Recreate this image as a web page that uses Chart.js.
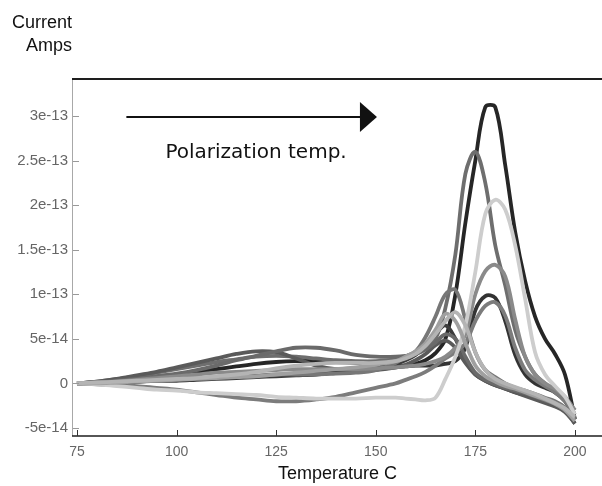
<!DOCTYPE html>
<html>
<head>
<meta charset="utf-8">
<script src="https://cdn.jsdelivr.net/npm/chart.js@4/dist/chart.umd.min.js"></script>
<style>
  body { margin: 0; background: #fff; }
  #wrap { width: 602px; height: 486px; }
</style>
</head>
<body>
<div id="wrap"><canvas id="tsc" width="602" height="486"></canvas></div>
<script>
// Temperature grid (C) shared by all runs
const temps = [75, 80, 85, 90, 95, 100, 105, 110, 115, 120, 125, 130, 135, 140, 145, 150,
    155, 157.5, 160, 162.5, 165, 167.5, 170, 172.5, 175, 177.5, 180, 182.5, 185, 187.5,
    190, 192.5, 195, 197.5, 200];

// Current in units of 1e-14 A
const runA = [0, 0.1, 0.3, 0.5, 0.8, 1.0, 1.3, 1.6, 1.9, 2.2, 2.4, 2.5, 2.5, 2.4, 2.3, 2.2,
    2.0, 2.0, 2.2, 2.6, 3.4, 5.0, 10.0, 18.0, 25.0, 31.0, 31.0, 24.5, 17.0, 11.5, 7.5, 5.0, 3.3, 1.0, -4.0];
const runB = [0, 0.2, 0.5, 0.8, 1.2, 1.6, 2.0, 2.4, 2.7, 3.0, 3.1, 3.0, 2.8, 2.6, 2.5, 2.5,
    2.7, 3.0, 3.5, 4.2, 5.0, 8.5, 14.5, 23.5, 26.0, 22.5, 15.5, 11.0, 6.0, 3.0, 1.0, 0, -1.0, -1.8, -3.0];
const runC = [0, -0.1, -0.3, -0.5, -0.7, -0.8, -1.0, -1.1, -1.2, -1.3, -1.5, -1.6, -1.7, -1.7, -1.7, -1.6,
    -1.6, -1.7, -1.8, -1.9, -1.6, 0.5, 3.0, 6.5, 12.5, 19.0, 20.6, 19.5, 15.5, 9.5, 3.5, 1.0, -0.3, -1.5, -3.5];
const runD = [0, 0.1, 0.2, 0.4, 0.6, 0.8, 1.0, 1.2, 1.3, 1.4, 1.5, 1.6, 1.6, 1.6, 1.6, 1.7,
    1.8, 1.9, 2.0, 2.2, 2.5, 3.0, 4.0, 5.5, 10.0, 12.6, 13.3, 12.0, 7.2, 3.0, 1.0, 0, -0.6, -1.5, -3.0];
const runE = [0, 0, 0.1, 0.2, 0.3, 0.4, 0.5, 0.6, 0.7, 0.8, 0.9, 1.0, 1.1, 1.2, 1.4, 1.6,
    1.8, 1.9, 2.0, 2.0, 2.0, 2.2, 2.5, 4.0, 8.2, 9.8, 9.6, 7.0, 3.2, 1.0, 0, -0.5, -1.0, -2.0, -4.0];
const runF = [0, -0.1, -0.2, -0.3, -0.5, -0.7, -1.0, -1.3, -1.6, -1.8, -2.0, -2.0, -1.8, -1.5, -1.0, -0.5,
    0, 0.4, 0.8, 1.3, 2.0, 2.8, 3.5, 4.5, 7.0, 8.7, 9.1, 7.6, 4.0, 1.5, 0.4, -0.3, -1.0, -2.0, -3.5];
const runG = [0, 0.1, 0.2, 0.3, 0.4, 0.5, 0.6, 0.7, 0.8, 0.9, 1.0, 1.0, 1.0, 1.1, 1.2, 1.5,
    2.3, 3.0, 3.6, 5.2, 7.5, 10.0, 10.5, 7.2, 3.5, 1.5, 0.7, 0, -0.5, -0.8, -1.2, -1.6, -2.0, -2.7, -4.0];
const runH = [0, 0, 0.1, 0.2, 0.3, 0.4, 0.5, 0.6, 0.7, 0.8, 1.0, 1.2, 1.4, 1.6, 1.8, 2.1,
    2.5, 3.0, 3.6, 4.5, 6.0, 7.8, 7.0, 4.5, 2.0, 0.8, 0.2, -0.3, -0.6, -1.0, -1.4, -1.8, -2.3, -3.0, -4.2];
const runI = [0, 0, 0.1, 0.2, 0.3, 0.3, 0.4, 0.5, 0.6, 0.7, 0.8, 0.9, 1.0, 1.2, 1.4, 1.7,
    2.2, 2.6, 3.2, 4.2, 5.5, 6.5, 5.0, 2.5, 1.0, 0.3, -0.2, -0.6, -1.0, -1.3, -1.6, -2.0, -2.5, -3.0, -4.5];
const runJ = [0, 0.2, 0.5, 0.9, 1.3, 1.8, 2.3, 2.8, 3.3, 3.6, 3.5, 2.8, 2.0, 1.6, 1.5, 1.5,
    1.8, 2.1, 2.6, 3.3, 4.3, 4.8, 4.0, 2.3, 1.0, 0.3, -0.2, -0.6, -1.0, -1.4, -1.8, -2.2, -2.6, -3.2, -4.5];
const runK = [0, 0.1, 0.3, 0.5, 0.8, 1.1, 1.5, 2.0, 2.6, 3.1, 3.6, 4.0, 4.0, 3.7, 3.2, 3.0,
    3.0, 3.1, 3.3, 3.8, 4.6, 5.5, 5.0, 3.0, 1.2, 0.4, -0.1, -0.5, -0.8, -1.1, -1.5, -1.9, -2.3, -2.9, -4.0];
const runL = [0, 0.1, 0.2, 0.3, 0.4, 0.5, 0.6, 0.8, 1.0, 1.3, 1.7, 2.0, 2.2, 2.3, 2.3, 2.3,
    2.5, 2.8, 3.3, 4.2, 5.5, 7.0, 8.0, 6.5, 3.5, 1.5, 0.5, 0, -0.4, -0.8, -1.2, -1.7, -2.2, -2.8, -3.8];

// Axis ticks
const xTicks = [75, 100, 125, 150, 175, 200];
const yTicks = [-5, 0, 5, 10, 15, 20, 25, 30];
const yTickLabels = ['-5e-14', '0', '5e-14', '1e-13', '1.5e-13', '2e-13', '2.5e-13', '3e-13'];

// Annotation arrow, in data units
const arrowFrom = { x: 87.4, y: 29.9 };
const arrowTo = { x: 150.3, y: 29.9 };
const noteAt = { x: 97.2, y: 25.3 };
const noteText = 'Polarization temp.';

// draw order: first ones end up underneath
const runs = [
    { data: runL, color: '#b4b4b4' },
    { data: runH, color: '#a0a0a0' },
    { data: runC, color: '#cdcdcd' },
    { data: runD, color: '#8a8a8a' },
    { data: runF, color: '#7c7c7c' },
    { data: runG, color: '#777777' },
    { data: runK, color: '#6a6a6a' },
    { data: runJ, color: '#5a5a5a' },
    { data: runI, color: '#3c3c3c' },
    { data: runB, color: '#6e6e6e' },
    { data: runE, color: '#333333' },
    { data: runA, color: '#262626' }
];

const framePlugin = {
    id: 'frame',
    afterDraw(chart) {
        const { ctx, chartArea: area, scales } = chart;
        const xs = scales.x, ys = scales.y;
        ctx.save();

        // left axis (light) and top / bottom rules (dark)
        ctx.strokeStyle = '#a8a8a8';
        ctx.lineWidth = 1;
        ctx.beginPath();
        ctx.moveTo(area.left - 0.5, area.top);
        ctx.lineTo(area.left - 0.5, area.bottom);
        ctx.stroke();

        ctx.strokeStyle = '#1e1e1e';
        ctx.lineWidth = 2;
        ctx.beginPath();
        ctx.moveTo(area.left - 1, area.top);
        ctx.lineTo(area.right, area.top);
        ctx.stroke();
        ctx.lineWidth = 1.5;
        ctx.beginPath();
        ctx.moveTo(area.left - 1, area.bottom);
        ctx.lineTo(area.right, area.bottom);
        ctx.stroke();

        // inward tick marks
        ctx.lineWidth = 1;
        ctx.strokeStyle = '#333';
        xTicks.forEach(v => {
            const px = Math.round(xs.getPixelForValue(v)) + 0.5;
            ctx.beginPath();
            ctx.moveTo(px, area.bottom);
            ctx.lineTo(px, area.bottom - 6);
            ctx.stroke();
        });
        ctx.strokeStyle = '#999';
        yTicks.forEach(v => {
            const py = Math.round(ys.getPixelForValue(v)) + 0.5;
            ctx.beginPath();
            ctx.moveTo(area.left, py);
            ctx.lineTo(area.left + 6, py);
            ctx.stroke();
        });

        // polarization arrow
        const ax0 = xs.getPixelForValue(arrowFrom.x);
        const ax1 = xs.getPixelForValue(arrowTo.x);
        const ay = ys.getPixelForValue(arrowFrom.y);
        ctx.strokeStyle = '#111';
        ctx.lineWidth = 2;
        ctx.beginPath();
        ctx.moveTo(ax0, ay);
        ctx.lineTo(ax1 - 16, ay);
        ctx.stroke();
        ctx.fillStyle = '#111';
        ctx.beginPath();
        ctx.moveTo(ax1, ay);
        ctx.lineTo(ax1 - 17, ay - 15);
        ctx.lineTo(ax1 - 17, ay + 15);
        ctx.closePath();
        ctx.fill();

        ctx.font = '20px "DejaVu Sans", Verdana, sans-serif';
        ctx.textAlign = 'left';
        ctx.textBaseline = 'alphabetic';
        ctx.fillText(noteText, xs.getPixelForValue(noteAt.x), ys.getPixelForValue(noteAt.y));

        // y axis caption, top left
        ctx.font = '18px "Liberation Sans", Arial, sans-serif';
        ctx.textAlign = 'right';
        ctx.fillText('Current', 72, 28);
        ctx.fillText('Amps', 72, 51);

        ctx.restore();
    }
};

document.addEventListener('DOMContentLoaded', () => {
    const ctx = document.getElementById('tsc');
    new Chart(ctx, {
        type: 'line',
        data: {
            datasets: runs.map(r => ({
                data: temps.map((t, i) => ({ x: t, y: r.data[i] })),
                borderColor: r.color,
                borderWidth: 3.8,
                pointRadius: 0,
                tension: 0.35,
                fill: false
            }))
        },
        options: {
            responsive: false,
            animation: false,
            layout: { padding: { top: 79, left: 0, right: 0, bottom: 0 } },
            plugins: {
                legend: { display: false },
                tooltip: { enabled: false }
            },
            scales: {
                x: {
                    type: 'linear',
                    min: 74,
                    max: 206.8,
                    grid: { display: false, drawTicks: false },
                    border: { display: false },
                    afterBuildTicks: scale => { scale.ticks = xTicks.map(v => ({ value: v })); },
                    afterFit: scale => { scale.height = 50; },
                    ticks: {
                        padding: 8,
                        color: '#666',
                        font: { family: '"Liberation Sans", Arial, sans-serif', size: 14 },
                        callback: v => String(v)
                    },
                    title: {
                        display: true,
                        text: 'Temperature C',
                        color: '#111',
                        padding: { top: 0, bottom: 1 },
                        font: { family: '"Liberation Sans", Arial, sans-serif', size: 18 }
                    }
                },
                y: {
                    min: -5.9,
                    max: 34.15,
                    grid: { display: false, drawTicks: false },
                    border: { display: false },
                    afterBuildTicks: scale => { scale.ticks = yTicks.map(v => ({ value: v })); },
                    afterFit: scale => { scale.width = 73; },
                    ticks: {
                        padding: 5,
                        color: '#666',
                        font: { family: '"Liberation Sans", Arial, sans-serif', size: 15 },
                        callback: v => yTickLabels[yTicks.indexOf(v)]
                    }
                }
            }
        },
        plugins: [framePlugin]
    });
});
</script>
</body>
</html>
